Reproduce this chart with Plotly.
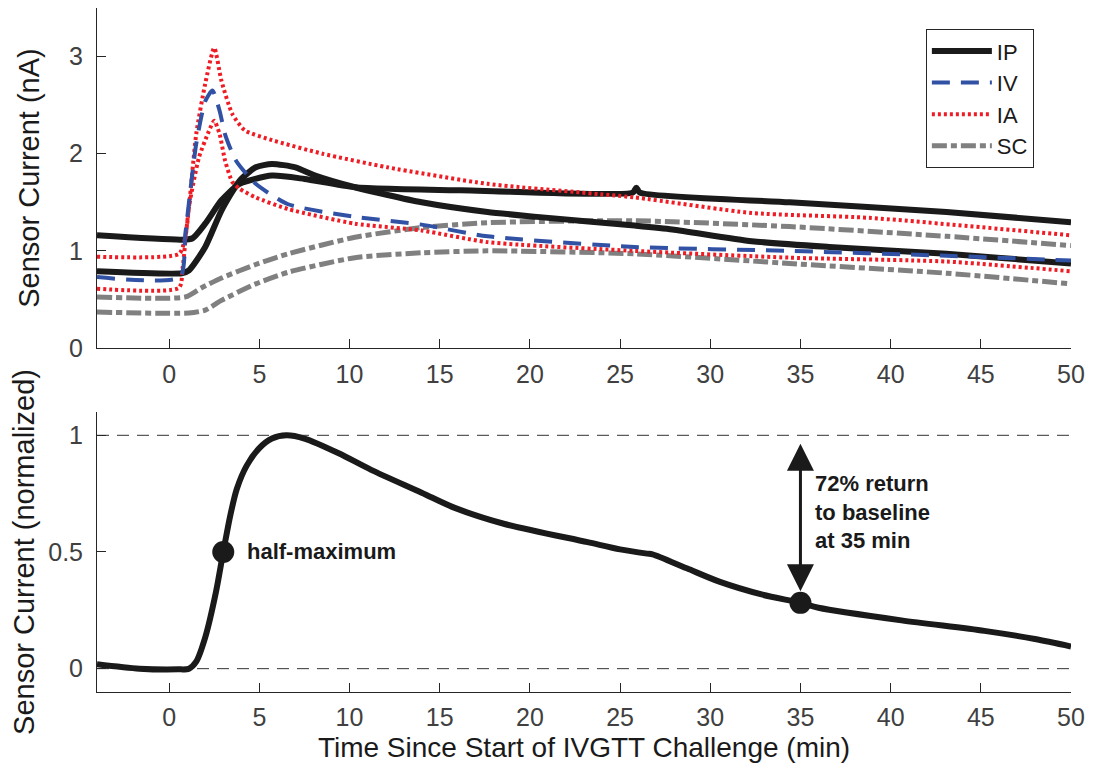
import plotly.graph_objects as go

# ---------------- data ----------------
ip1_t = [-4, 0.7, 1.3, 2.0, 2.9, 3.9, 5.7, 7.5, 10.3, 17.1, 25.7, 25.9, 26.1, 34.4, 43.1, 50]
ip1_v = [1.16, 1.115, 1.13, 1.28, 1.52, 1.69, 1.775, 1.74, 1.655, 1.62, 1.60, 1.65, 1.60, 1.50, 1.40, 1.295]

ip2_t = [-4, 0.7, 1.1, 2.0, 2.9, 3.9, 4.8, 5.7, 7.0, 8.1, 10.3, 14.0, 17.65, 20.4, 25.8, 27.9, 32.3, 36.6, 43.1, 50]
ip2_v = [0.79, 0.77, 0.80, 1.04, 1.415, 1.72, 1.86, 1.895, 1.86, 1.775, 1.655, 1.50, 1.40, 1.35, 1.26, 1.22, 1.10, 1.04, 0.97, 0.87]

iv_t = [-4, 0.6, 0.9, 1.5, 2.0, 2.4, 2.8, 3.1, 3.7, 4.8, 6.6, 10.3, 14.0, 17.65, 25.8, 34.4, 43.1, 50]
iv_v = [0.73, 0.73, 1.18, 2.1, 2.54, 2.65, 2.44, 2.2, 1.93, 1.69, 1.48, 1.35, 1.27, 1.15, 1.04, 1.0, 0.95, 0.90]

ia1_t = [-4, 0.55, 0.9, 1.5, 2.0, 2.5, 2.9, 3.5, 4.2, 5.7, 8.5, 12.1, 17.65, 25.8, 32.3, 38.8, 50]
ia1_v = [0.94, 0.97, 1.15, 2.2, 2.72, 3.09, 2.75, 2.41, 2.24, 2.14, 2.0, 1.86, 1.69, 1.55, 1.39, 1.34, 1.16]

ia2_t = [-4, 0.55, 0.75, 1.1, 1.65, 2.2, 2.5, 2.8, 3.1, 3.5, 3.9, 4.8, 6.6, 10.3, 14.0, 17.65, 25.8, 34.4, 43.1, 50]
ia2_v = [0.61, 0.62, 0.83, 1.45, 1.96, 2.23, 2.34, 2.2, 1.93, 1.71, 1.64, 1.55, 1.43, 1.28, 1.21, 1.09, 1.0, 0.93, 0.89, 0.79]

sc1_t = [-4, 0.9, 1.8, 2.9, 4.8, 6.6, 10.3, 14.0, 17.65, 25.8, 34.4, 43.1, 50]
sc1_v = [0.526, 0.526, 0.62, 0.72, 0.86, 0.97, 1.14, 1.24, 1.29, 1.31, 1.25, 1.15, 1.055]

sc2_t = [-4, 1.1, 2.0, 2.9, 4.8, 6.6, 10.3, 14.0, 17.65, 25.8, 34.4, 43.1, 50]
sc2_v = [0.37, 0.36, 0.39, 0.49, 0.66, 0.78, 0.93, 0.98, 1.0, 0.97, 0.87, 0.77, 0.66]

norm_t = [-4, -1.65, 0.5, 1.1, 1.5, 2.0, 2.6, 3.0, 3.4, 3.75, 4.3, 5.0, 5.7, 6.5, 7.5, 9.4, 11.2, 14.0, 15.8,
          18.6, 23.2, 25.0, 26.5, 26.8, 28.7, 30.5, 32.9, 35.0, 36.0, 40.6, 45.2, 48.0, 50.0]
norm_v = [0.019, 0.0, -0.003, 0.0, 0.03, 0.134, 0.33, 0.50, 0.66, 0.77, 0.87, 0.945, 0.986, 1.0, 0.986, 0.923, 0.852,
          0.754, 0.69, 0.62, 0.542, 0.511, 0.493, 0.49, 0.43, 0.373, 0.317, 0.282, 0.261, 0.207, 0.162, 0.127, 0.095]

half_max_t, half_max_v = 3.0, 0.5
return_t, return_v = 35.0, 0.282
ref_levels = [0, 1]

x_ticks = [0, 5, 10, 15, 20, 25, 30, 35, 40, 45, 50]
top_y_ticks = [0, 1, 2, 3]
bot_y_ticks = [0, 0.5, 1]

# ---------------- styling ----------------
FONT = "Liberation Sans, Arial, Helvetica, sans-serif"
AX = "#262626"
TICKC = "#404040"
C_IP = "#1a1a1a"
C_IV = "#3151a5"
C_IA = "#ee1d25"
C_SC = "#808080"

fig = go.Figure()

series = [
    ("IP", [(ip1_t, ip1_v), (ip2_t, ip2_v)], dict(color=C_IP, width=6, dash="solid")),
    ("IV", [(iv_t, iv_v)], dict(color=C_IV, width=4, dash="18px,11px")),
    ("IA", [(ia1_t, ia1_v), (ia2_t, ia2_v)], dict(color=C_IA, width=4, dash="3px,3px")),
    ("SC", [(sc1_t, sc1_v), (sc2_t, sc2_v)], dict(color=C_SC, width=5, dash="15px,4px,6px,4px")),
]

order = [3, 0, 2, 1]
legend_rank = {"IP": 1, "IV": 2, "IA": 3, "SC": 4}
for idx in order:
    name, curves, line = series[idx]
    for k, (t, v) in enumerate(curves):
        fig.add_trace(go.Scatter(
            x=t, y=v, mode="lines", name=name, legendgroup=name,
            showlegend=(k == 0), legendrank=legend_rank[name],
            line=dict(shape="spline", smoothing=0.6, **line),
            xaxis="x", yaxis="y",
        ))

for lvl in ref_levels:
    fig.add_trace(go.Scatter(
        x=[-4, 50], y=[lvl, lvl], mode="lines", showlegend=False,
        line=dict(color="#333333", width=1, dash="12px,8px"),
        xaxis="x2", yaxis="y2", hoverinfo="skip",
    ))

fig.add_trace(go.Scatter(
    x=norm_t, y=norm_v, mode="lines", showlegend=False,
    line=dict(color=C_IP, width=6, shape="spline", smoothing=0.8),
    xaxis="x2", yaxis="y2",
))
fig.add_trace(go.Scatter(
    x=[half_max_t, return_t], y=[half_max_v, return_v], mode="markers", showlegend=False,
    marker=dict(color=C_IP, size=22), xaxis="x2", yaxis="y2",
))

fig.add_annotation(
    x=return_t, y=return_v + 0.05, ax=return_t, ay=max(ref_levels) - 0.03,
    xref="x2", yref="y2", axref="x2", ayref="y2",
    showarrow=True, arrowhead=2, startarrowhead=2, arrowside="end+start",
    arrowsize=1.8, startarrowsize=1.8, arrowwidth=3, arrowcolor=C_IP, text="",
)
fig.add_annotation(
    x=return_t + 0.7, y=0.67, xref="x2", yref="y2", xanchor="left", yanchor="middle",
    text="<b>72% return<br>to baseline<br>at 35 min</b>", showarrow=False, align="left",
    font=dict(family=FONT, size=22, color="#1a1a1a"),
)
fig.add_annotation(
    x=half_max_t + 1.2, y=half_max_v, xref="x2", yref="y2", xanchor="left", yanchor="middle",
    text="<b>half-maximum</b>", showarrow=False,
    font=dict(family=FONT, size=22, color="#1a1a1a"),
)

axis_common = dict(
    showline=True, linecolor=AX, linewidth=1, mirror=False,
    ticks="inside", ticklen=9, tickcolor=AX, tickwidth=1,
    showgrid=False, zeroline=False,
    tickfont=dict(family=FONT, size=25, color=TICKC),
)
TITLE_FONT = dict(family=FONT, size=29, color="#1a1a1a")

# page body has an 8px margin: the figure starts at (8, 8) in the window,
# so it is sized to fit inside the window without scrollbars
fig.update_layout(
    width=1079, height=760,
    margin=dict(l=89, r=16, t=0, b=76),
    paper_bgcolor="white", plot_bgcolor="white",
    font=dict(family=FONT, color="#262626"),
    xaxis=dict(domain=[0, 1], anchor="y", range=[-4, 50], tickvals=x_ticks,
               ticklabelstandoff=4, **axis_common),
    yaxis=dict(domain=[0.5029, 1.0], anchor="x", range=[0, 3.5], tickvals=top_y_ticks,
               title=dict(text="Sensor Current (nA)", font=TITLE_FONT, standoff=20),
               ticklabelstandoff=8, **axis_common),
    xaxis2=dict(domain=[0, 1], anchor="y2", range=[-4, 50], tickvals=x_ticks,
                title=dict(text="Time Since Start of IVGTT Challenge (min)",
                           font=dict(family=FONT, size=28, color="#1a1a1a"), standoff=7),
                ticklabelstandoff=3, **axis_common),
    yaxis2=dict(domain=[0, 0.4094], anchor="x2", range=[-0.1, 1.1], tickvals=bot_y_ticks,
                ticktext=["0", "0.5", "1"],
                title=dict(text="Sensor Current (normalized)", font=TITLE_FONT, standoff=8),
                ticklabelstandoff=8, **axis_common),
    legend=dict(x=0.851, y=0.969, xanchor="left", yanchor="top",
                bordercolor=AX, borderwidth=1, bgcolor="white",
                font=dict(family=FONT, size=22, color="#1a1a1a"),
                itemwidth=60, tracegroupgap=0),
)

fig.write_html("out.html")
